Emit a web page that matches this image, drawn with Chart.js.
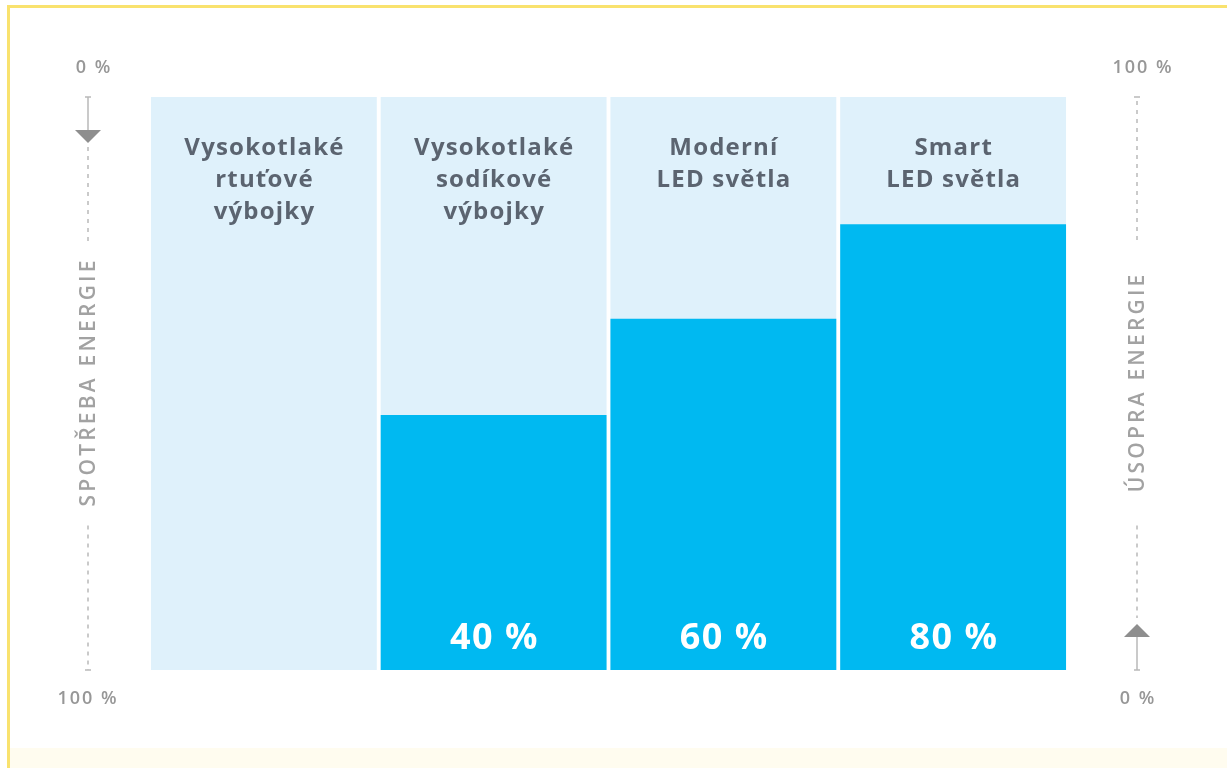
<!DOCTYPE html>
<html>
<head>
<meta charset="utf-8">
<script src="https://cdn.jsdelivr.net/npm/chart.js@4/dist/chart.umd.min.js"></script>
<style>
  html, body { margin: 0; padding: 0; background: #ffffff; }
  #wrap { position: relative; width: 1227px; height: 768px; }
  canvas { display: block; }
</style>
</head>
<body>
<div id="wrap"><canvas id="c" width="1227" height="768"></canvas></div>
<script>
// ---- data ----
const categories = [
  ['Vysokotlaké', 'rtuťové', 'výbojky'],
  ['Vysokotlaké', 'sodíkové', 'výbojky'],
  ['Moderní', 'LED světla'],
  ['Smart', 'LED světla']
];
const totalValues = [100, 100, 100, 100];          // full column (consumption scale)
const savingValues = [0, 44.5, 61.3, 77.8];        // bar heights as drawn
const savingLabels = ['', '40 %', '60 %', '80 %'];
const leftTickValues = [0, 100];
const leftTickLabels = ['0 %', '100 %'];
const rightTickValues = [100, 0];
const rightTickLabels = ['100 %', '0 %'];
const leftAxisTitle = 'SPOTŘEBA ENERGIE';
const rightAxisTitle = 'ÚSOPRA ENERGIE';

const FONT = '"Open Sans", "DejaVu Sans", sans-serif';
const TEXT_DARK = '#5b6470';
const AXIS_GREY = '#979797';
const LINE_GREY = '#b9b9b9';

function setSpacing(ctx, px) {
  if ('letterSpacing' in ctx) ctx.letterSpacing = px + 'px';
}
// draw text centred, compensating for trailing letter spacing
function spacedText(ctx, t, x, y, sp) {
  setSpacing(ctx, sp);
  ctx.fillText(t, x + sp / 2, y);
}

function drawTri(ctx, x, yBase, w, h, dir) {
  ctx.beginPath();
  ctx.moveTo(x - w / 2, yBase);
  ctx.lineTo(x + w / 2, yBase);
  ctx.lineTo(x, yBase + dir * h);
  ctx.closePath();
  ctx.fill();
}

function drawSideAxis(ctx, x, yScale, tickVals, tickLabels, title, arrowAtTop, lblDx) {
  const yA = yScale.getPixelForValue(tickVals[0]);
  const yB = yScale.getPixelForValue(tickVals[1]);
  const top = Math.min(yA, yB), bot = Math.max(yA, yB);
  const mid = (top + bot) / 2;
  ctx.save();
  // tick labels
  ctx.fillStyle = AXIS_GREY;
  ctx.font = '600 18px ' + FONT;
  ctx.textAlign = 'center';
  ctx.textBaseline = 'middle';
  spacedText(ctx, tickLabels[0], x + lblDx[0], yA - 29, 2);
  spacedText(ctx, tickLabels[1], x + lblDx[1], yB + 29, 2);
  setSpacing(ctx, 0);

  ctx.strokeStyle = LINE_GREY;
  ctx.fillStyle = '#8e8e8e';
  ctx.lineWidth = 1.5;
  // end ticks
  ctx.beginPath();
  ctx.moveTo(x - 3, top); ctx.lineTo(x + 3, top);
  ctx.moveTo(x - 3, bot); ctx.lineTo(x + 3, bot);
  ctx.stroke();
  const gapTop = mid - 142, gapBot = mid + 142;
  if (arrowAtTop) {
    ctx.beginPath(); ctx.moveTo(x, top); ctx.lineTo(x, top + 33); ctx.stroke();
    drawTri(ctx, x, top + 33, 26, 13, 1);
    ctx.setLineDash([4, 5]);
    ctx.beginPath(); ctx.moveTo(x, top + 50); ctx.lineTo(x, gapTop); ctx.stroke();
    ctx.beginPath(); ctx.moveTo(x, gapBot); ctx.lineTo(x, bot); ctx.stroke();
  } else {
    ctx.setLineDash([4, 5]);
    ctx.beginPath(); ctx.moveTo(x, top + 4); ctx.lineTo(x, gapTop); ctx.stroke();
    ctx.beginPath(); ctx.moveTo(x, gapBot); ctx.lineTo(x, bot - 52); ctx.stroke();
    ctx.setLineDash([]);
    ctx.beginPath(); ctx.moveTo(x, bot - 33); ctx.lineTo(x, bot); ctx.stroke();
    drawTri(ctx, x, bot - 33, 26, 13, -1);
  }
  ctx.setLineDash([]);
  // rotated title
  ctx.translate(x + 1, mid);
  ctx.rotate(-Math.PI / 2);
  ctx.fillStyle = '#a2a2a2';
  ctx.font = '600 21px ' + FONT;
  ctx.textAlign = 'center';
  ctx.textBaseline = 'middle';
  spacedText(ctx, title, 0, 0, 3.2);
  ctx.restore();
}

const decorPlugin = {
  id: 'decor',
  beforeDraw(chart) {
    const ctx = chart.ctx;
    ctx.save();
    ctx.fillStyle = '#ffffff';
    ctx.fillRect(0, 0, chart.width, chart.height);
    ctx.fillStyle = '#fffcef';
    ctx.fillRect(9, 748, chart.width - 9, chart.height - 748);
    ctx.fillStyle = '#f9e26e';
    ctx.fillRect(7, 5, chart.width - 7, 3);
    ctx.fillRect(7, 5, 3, chart.height - 5);
    ctx.restore();
  },
  afterDatasetsDraw(chart) {
    const ctx = chart.ctx;
    const xs = chart.scales.x;
    const ys = chart.scales.y;
    ctx.save();
    ctx.textAlign = 'center';
    ctx.textBaseline = 'middle';
    // category names at top of each column
    ctx.fillStyle = TEXT_DARK;
    ctx.font = '700 24px ' + FONT;
    categories.forEach((lines, i) => {
      const cx = xs.getPixelForValue(i);
      const y0 = ys.getPixelForValue(100) + 51;
      lines.forEach((t, j) => spacedText(ctx, t, cx, y0 + j * 32, 1.2));
    });
    // percentage labels at bottom of bars
    ctx.fillStyle = '#ffffff';
    ctx.font = '700 36px ' + FONT;
    savingLabels.forEach((t, i) => {
      if (!t) return;
      const cx = xs.getPixelForValue(i);
      spacedText(ctx, t, cx, ys.getPixelForValue(0) - 31, 1.5);
    });
    ctx.restore();
  },
  afterDraw(chart) {
    const ctx = chart.ctx;
    drawSideAxis(ctx, 88, chart.scales.yLeft, leftTickValues, leftTickLabels, leftAxisTitle, true, [5, -1]);
    drawSideAxis(ctx, 1137, chart.scales.y, rightTickValues, rightTickLabels, rightAxisTitle, false, [5, 0]);
  }
};

new Chart(document.getElementById('c'), {
  type: 'bar',
  data: {
    labels: categories.map(c => c.join(' ')),
    datasets: [
      {
        label: 'Úspora',
        data: savingValues,
        backgroundColor: '#00b9f1',
        barPercentage: 0.983,
        categoryPercentage: 1,
        grouped: false,
        order: 0
      },
      {
        label: 'Spotřeba',
        data: totalValues,
        backgroundColor: '#dff1fb',
        barPercentage: 0.983,
        categoryPercentage: 1,
        grouped: false,
        order: 1
      }
    ]
  },
  options: {
    responsive: false,
    animation: false,
    devicePixelRatio: 1,
    layout: { padding: { left: 149, right: 159, top: 97, bottom: 98 } },
    plugins: { legend: { display: false }, tooltip: { enabled: false } },
    scales: {
      x: { display: false, offset: true },
      y: { display: false, min: 0, max: 100 },
      yLeft: { display: false, min: 0, max: 100, reverse: true, position: 'left' }
    }
  },
  plugins: [decorPlugin]
});
</script>
</body>
</html>
